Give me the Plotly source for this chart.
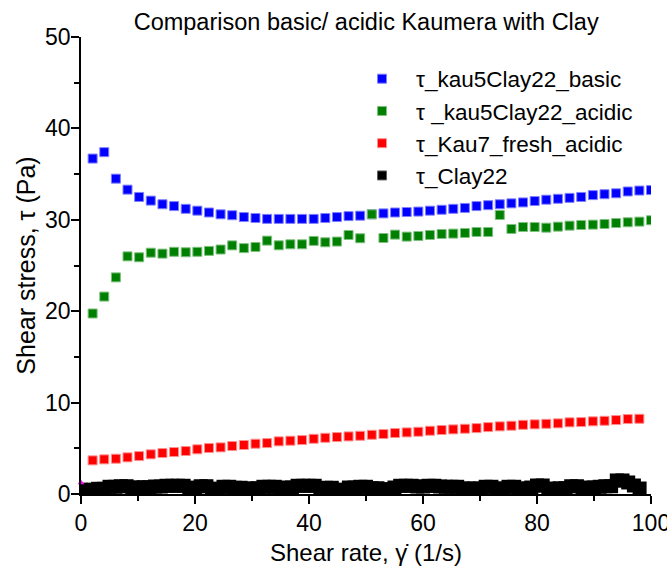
import plotly.graph_objects as go

# shear rate (1/s) of the three Kaumera series
shear_rate = [
    2.04, 4.08, 6.12, 8.16, 10.2, 12.24, 14.29, 16.33, 18.37, 20.41,
    22.45, 24.49, 26.53, 28.57, 30.61, 32.65, 34.69, 36.73, 38.78, 40.82,
    42.86, 44.9, 46.94, 48.98, 51.02, 53.06, 55.1, 57.14, 59.18, 61.22,
    63.27, 65.31, 67.35, 69.39, 71.43, 73.47, 75.51, 77.55, 79.59, 81.63,
    83.67, 85.71, 87.76, 89.8, 91.84, 93.88, 95.92, 97.96, 100.0,
]

tau_basic = [
    36.7, 37.4, 34.5, 33.3, 32.5, 32.1, 31.7, 31.5, 31.2, 31.0,
    30.8, 30.6, 30.5, 30.3, 30.2, 30.1, 30.1, 30.1, 30.1, 30.1,
    30.2, 30.3, 30.4, 30.45, 30.6, 30.7, 30.8, 30.85, 30.9, 31.0,
    31.1, 31.2, 31.3, 31.5, 31.6, 31.7, 31.8, 31.9, 32.05, 32.2,
    32.3, 32.4, 32.5, 32.7, 32.8, 32.9, 33.1, 33.2, 33.25,
]

tau_acidic = [
    19.75, 21.6, 23.7, 26.0, 25.9, 26.4, 26.3, 26.5, 26.45, 26.5,
    26.6, 26.75, 27.2, 26.9, 27.03, 27.72, 27.21, 27.32, 27.32, 27.69,
    27.54, 27.62, 28.34, 27.98, 30.6, 28.01, 28.38, 28.16, 28.23, 28.34,
    28.45, 28.49, 28.56, 28.67, 28.67, 30.53, 29.0, 29.21, 29.21, 29.14,
    29.25, 29.36, 29.43, 29.47, 29.54, 29.65, 29.73, 29.8, 29.95,
]

tau_kau7 = [
    3.68, 3.79, 3.86, 4.01, 4.15, 4.34, 4.48, 4.59, 4.7, 4.89,
    5.03, 5.1, 5.25, 5.36, 5.5, 5.57, 5.76, 5.83, 5.9, 6.04,
    6.15, 6.23, 6.3, 6.37, 6.48, 6.56, 6.67, 6.74, 6.81, 6.92,
    7.0, 7.07, 7.14, 7.21, 7.32, 7.4, 7.47, 7.57, 7.62, 7.68,
    7.73, 7.84, 7.87, 7.95, 8.01, 8.09, 8.2, 8.23,
]

clay_rate = [
    0, 1, 2, 3, 4, 5, 6, 7, 8, 9,
    10, 11, 12, 13, 14, 15, 16, 17, 18, 19,
    20, 21, 22, 23, 24, 25, 26, 27, 28, 29,
    30, 31, 32, 33, 34, 35, 36, 37, 38, 39,
    40, 41, 42, 43, 44, 45, 46, 47, 48, 49,
    50, 51, 52, 53, 54, 55, 56, 57, 58, 59,
    60, 61, 62, 63, 64, 65, 66, 67, 68, 69,
    70, 71, 72, 73, 74, 75, 76, 77, 78, 79,
    80, 81, 82, 83, 84, 85, 86, 87, 88, 89,
    90, 91, 92, 93, 94, 95, 96, 97, 98,
]
tau_clay = [
    0.46, 0.46, 0.46, 0.57, 0.57, 0.79, 0.79, 0.85, 0.85, 0.71,
    0.71, 0.74, 0.74, 0.82, 0.82, 0.9, 0.9, 0.9, 0.9, 0.63,
    0.7, 0.85, 0.85, 0.57, 0.57, 0.79, 0.79, 0.68, 0.68, 0.6,
    0.6, 0.63, 0.79, 0.79, 0.79, 0.46, 0.71, 0.71, 0.9, 0.9,
    0.9, 0.9, 0.6, 0.68, 0.68, 0.46, 0.46, 0.71, 0.71, 0.79,
    0.79, 0.63, 0.63, 0.52, 0.52, 0.71, 0.9, 0.9, 0.9, 0.82,
    0.82, 0.9, 0.9, 0.82, 0.79, 0.79, 0.79, 0.6, 0.6, 0.6,
    0.6, 0.79, 0.79, 0.6, 0.6, 0.79, 0.79, 0.63, 0.49, 0.71,
    0.93, 0.93, 0.6, 0.49, 0.63, 0.63, 0.85, 0.85, 0.38, 0.71,
    0.71, 0.79, 0.85, 0.85, 1.48, 1.48, 1.26, 0.93, 0.6,
]

# stray magenta points at the origin
extra_rate = [0, 0]
extra_tau = [1.24, -1.0]

FONT = "Liberation Sans, Arial, sans-serif"
BLACK = "#000000"


def square(color, edge, size=9):
    return dict(symbol="square", size=size, color=color,
                line=dict(color=edge, width=1))


fig = go.Figure()

fig.add_trace(go.Scatter(
    x=clay_rate, y=tau_clay, mode="markers", showlegend=False,
    marker=dict(symbol="square", size=14, color=BLACK, line=dict(width=0)),
))
fig.add_trace(go.Scatter(
    x=shear_rate, y=tau_basic, mode="markers", name="τ_kau5Clay22_basic",
    marker=square("#0000FF", "#8080FF"),
))
fig.add_trace(go.Scatter(
    x=shear_rate, y=tau_acidic, mode="markers", name="τ _kau5Clay22_acidic",
    marker=square("#008000", "#80C080"),
))
fig.add_trace(go.Scatter(
    x=shear_rate[:len(tau_kau7)], y=tau_kau7, mode="markers",
    name="τ_Kau7_fresh_acidic",
    marker=square("#FF0000", "#FF9090"),
))
# legend entry for the clay band
fig.add_trace(go.Scatter(
    x=[None], y=[None], mode="markers", name="τ_Clay22",
    marker=square(BLACK, "#606060"),
))
fig.add_trace(go.Scatter(
    x=extra_rate, y=extra_tau, mode="markers", showlegend=False,
    cliponaxis=False,
    marker=dict(symbol="triangle-up", size=6, color="#FF00FF", line=dict(width=0)),
))

axis_common = dict(
    showline=True, linecolor=BLACK, linewidth=1.5,
    ticks="outside", ticklen=8, tickwidth=1.5, tickcolor=BLACK,
    showgrid=False, zeroline=False, automargin=False,
    ticklabeloverflow="allow",
    tickfont=dict(family=FONT, size=23, color=BLACK),
)

fig.update_layout(
    width=667, height=567,
    paper_bgcolor="white", plot_bgcolor="white",
    font=dict(family=FONT, color=BLACK),
    margin=dict(l=81, r=16, t=37, b=73),
    title=dict(text="Comparison basic/ acidic Kaumera with Clay",
               x=0.549, xanchor="center", y=0.962, yanchor="middle",
               font=dict(family=FONT, size=23.5, color=BLACK)),
    xaxis=dict(
        range=[0, 100], dtick=20, tick0=0,
        minor=dict(dtick=10, ticks="outside", ticklen=5, tickwidth=1.5, tickcolor=BLACK),
        title=dict(text="Shear rate, γ̇ (1/s)", standoff=9,
                   font=dict(family=FONT, size=24, color=BLACK)),
        **axis_common,
    ),
    yaxis=dict(
        range=[0, 50], dtick=10, tick0=0,
        minor=dict(dtick=5, ticks="outside", ticklen=5, tickwidth=1.5, tickcolor=BLACK),
        title=dict(text="Shear stress, τ (Pa)", standoff=2,
                   font=dict(family=FONT, size=25, color=BLACK)),
        ticklabelstandoff=-4,
        **axis_common,
    ),
    legend=dict(
        x=0.4685, y=0.955, xanchor="left", yanchor="top",
        bgcolor="rgba(0,0,0,0)", itemwidth=58,
        font=dict(family=FONT, size=22.5, color=BLACK),
    ),
)

# drop the default page margin so the figure sits at the window's corner
fig.write_html("out.html", config={"displayModeBar": False},
               post_script="document.body.style.margin = '0';")
